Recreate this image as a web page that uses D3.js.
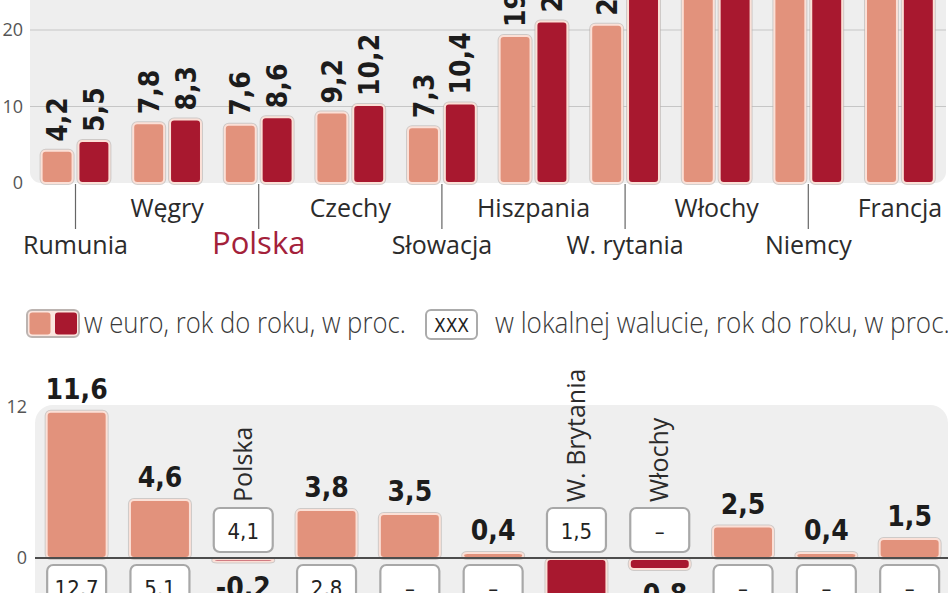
<!DOCTYPE html>
<html lang="pl">
<head>
<meta charset="utf-8">
<script src="https://cdn.jsdelivr.net/npm/d3@7"></script>
<style>
  body { margin: 0; background: #fff; }
  svg { display: block; }
  .sans { font-family: 'Open Sans', 'DejaVu Sans', sans-serif; }
  .num { font-family: 'DejaVu Sans Condensed', 'DejaVu Sans', sans-serif; font-stretch: condensed; font-weight: bold; }
  .plain { font-weight: normal; }
</style>
</head>
<body>
<svg id="chart" width="948" height="593"></svg>
<script>
// upper chart: two bars per country
let topCountries = ['Rumunia', 'Węgry', 'Polska', 'Czechy', 'Słowacja', 'Hiszpania', 'W. rytania', 'Włochy', 'Niemcy', 'Francja']
let topEuro  = [4.2, 7.8, 7.6, 9.2, 7.3, 19.2, 20.7, 27.4, 28.3, 29.6]
let topLocal = [5.5, 8.3, 8.6, 10.2, 10.4, 21.1, 25.8, 28.1, 29.0, 30.2]
let topTicks = [0, 10, 20]
let topGrid = [10, 20]

// lower chart: one bar (euro) and one box (local currency) per country
let bottomNames = [null, null, 'Polska', null, null, null, 'W. Brytania', 'Włochy', null, null, null]
let bottomEuro  = [11.6, 4.6, -0.2, 3.8, 3.5, 0.4, -6.5, -0.8, 2.5, 0.4, 1.5]
let bottomLocal = [12.7, 5.1, 4.1, 2.8, null, null, 1.5, null, null, null, null]
let bottomTicks = [0, 12]

let legendEuro = 'w euro, rok do roku, w proc.'
let legendLocal = 'w lokalnej walucie, rok do roku, w proc.'

let salmon = '#e2927c'
let darkRed = '#a8182f'

let pl = d3.formatLocale({decimal: ',', thousands: ' ', grouping: [3], currency: ['', ' zł'], minus: '-'})
let fmt = pl.format('.1f')

let svg = d3.select('#chart')

// draws a rounded bar with a pale rim and a soft grey edge
let drawBars = (g, data, cls) => {
  g.selectAll('rect.' + cls + '-edge')
    .data(data)
    .enter()
    .append('rect')
    .attr('class', cls + '-edge')
    .attr('x', d => d.x).attr('y', d => d.y)
    .attr('width', d => d.w).attr('height', d => d.h)
    .attr('rx', 4)
    .attr('fill', 'none')
    .attr('stroke', '#b8b0ad')
    .attr('stroke-opacity', 0.6)
    .attr('stroke-width', 4)
  g.selectAll('rect.' + cls)
    .data(data)
    .enter()
    .append('rect')
    .attr('class', cls)
    .attr('x', d => d.x).attr('y', d => d.y)
    .attr('width', d => d.w).attr('height', d => d.h)
    .attr('rx', 4)
    .attr('fill', d => d.fill)
    .attr('stroke', '#fbe0d7')
    .attr('stroke-width', 2)
}

// squeezes a text horizontally so it fills the given width
let squeeze = (sel, x, y, width) => {
  let natural = sel.node().getComputedTextLength()
  sel.attr('transform', 'translate(' + x + ',' + y + ') scale(' + (width / natural) + ',1)')
}

// ---------- upper chart ----------
let x0 = d3.scaleBand().domain(topCountries).range([29.7, 945.7]).paddingInner(0.26).paddingOuter(0.13)
let x1 = d3.scaleBand().domain(['euro', 'local']).range([0, x0.bandwidth()]).paddingInner(0.16)
let yTop = d3.scaleLinear().domain([0, 20]).range([183, 30])

let upper = svg.append('g')

upper.append('rect')
   .attr('x', 30).attr('y', -30)
   .attr('width', 916).attr('height', yTop(0) + 30)
   .attr('rx', 11)
   .attr('fill', '#eeeeee')

upper.selectAll('line.grid')
   .data(topGrid)
   .enter()
   .append('line')
   .attr('class', 'grid')
   .attr('x1', 30).attr('x2', 946)
   .attr('y1', d => yTop(d)).attr('y2', d => yTop(d))
   .attr('stroke', '#c6c6c6')
   .attr('stroke-width', 1.2)

let topAxis = d3.axisLeft(yTop).tickValues(topTicks).tickSize(0).tickPadding(7).tickFormat(d3.format('d'))
upper.append('g')
   .attr('transform', 'translate(30,0)')
   .call(topAxis)
   .call(g => g.select('.domain').remove())
   .selectAll('text')
   .attr('class', 'sans')
   .attr('font-size', 18)
   .attr('fill', '#555')

let topBars = []
topCountries.forEach((c, i) => {
  [['euro', topEuro[i], salmon], ['local', topLocal[i], darkRed]].forEach(([k, v, fill]) => {
    topBars.push({
      x: x0(c) + x1(k), y: yTop(v), w: x1.bandwidth(), h: yTop(0) - yTop(v),
      fill: fill, v: v, cx: x0(c) + x1(k) + x1.bandwidth() / 2
    })
  })
})
drawBars(upper, topBars, 'tbar')

upper.selectAll('text.tval')
   .data(topBars)
   .enter()
   .append('text')
   .attr('class', 'tval num')
   .attr('transform', d => 'translate(' + d.cx + ',' + (d.y - 9) + ') rotate(-90)')
   .attr('dy', '0.36em')
   .attr('font-size', 28)
   .attr('fill', '#1c1c1c')
   .text(d => fmt(d.v))

// country names in two rows, lower row with leader lines
let lowRow = topCountries.filter((c, i) => i % 2 === 0)
let highRow = topCountries.filter((c, i) => i % 2 === 1)

upper.selectAll('line.leader')
   .data(lowRow)
   .enter()
   .append('line')
   .attr('class', 'leader')
   .attr('x1', c => x0(c) + x0.bandwidth() / 2)
   .attr('x2', c => x0(c) + x0.bandwidth() / 2)
   .attr('y1', yTop(0) + 1).attr('y2', 229)
   .attr('stroke', '#666')
   .attr('stroke-width', 1.2)

upper.selectAll('text.name1')
   .data(highRow)
   .enter()
   .append('text')
   .attr('class', 'name1 sans')
   .attr('x', c => x0(c) + x0.bandwidth() / 2)
   .attr('y', 217)
   .attr('text-anchor', 'middle')
   .attr('font-size', 25)
   .attr('fill', '#2b2b2b')
   .text(c => c)

upper.selectAll('text.name2')
   .data(lowRow)
   .enter()
   .append('text')
   .attr('class', 'name2 sans')
   .attr('x', c => x0(c) + x0.bandwidth() / 2)
   .attr('y', 254)
   .attr('text-anchor', 'middle')
   .attr('font-size', c => c === 'Polska' ? 31 : 25)
   .attr('fill', c => c === 'Polska' ? '#a3213a' : '#2b2b2b')
   .text(c => c)

// ---------- legend ----------
let legend = svg.append('g')
legend.append('rect')
      .attr('x', 27).attr('y', 310).attr('width', 52).attr('height', 27).attr('rx', 5)
      .attr('fill', '#fbe6df').attr('stroke', '#bcb4b1').attr('stroke-width', 2)
legend.append('rect')
      .attr('x', 29.5).attr('y', 312.5).attr('width', 21).attr('height', 22).attr('rx', 3)
      .attr('fill', salmon)
legend.append('rect')
      .attr('x', 55).attr('y', 312.5).attr('width', 22).attr('height', 22).attr('rx', 3)
      .attr('fill', darkRed)
legend.append('text')
      .attr('class', 'sans')
      .attr('font-size', 30).attr('font-weight', 300)
      .attr('fill', '#3a3a3a')
      .text(legendEuro)
      .call(squeeze, 84, 333, 322)
legend.append('rect')
      .attr('x', 426).attr('y', 310).attr('width', 51).attr('height', 29).attr('rx', 5)
      .attr('fill', '#fff').attr('stroke', '#ababab').attr('stroke-width', 2)
legend.append('text')
      .attr('class', 'num plain')
      .attr('x', 451.5).attr('y', 332)
      .attr('text-anchor', 'middle')
      .attr('font-size', 19)
      .attr('fill', '#222')
      .text('XXX')
legend.append('text')
      .attr('class', 'sans')
      .attr('font-size', 30).attr('font-weight', 300)
      .attr('fill', '#3a3a3a')
      .text(legendLocal)
      .call(squeeze, 495, 333, 455)

// ---------- lower chart ----------
let idx = d3.range(bottomEuro.length)
let xb = d3.scaleBand().domain(idx).range([35, 951.3]).paddingInner(0.28).paddingOuter(0.14)
let yb = d3.scaleLinear().domain([0, 12]).range([558, 406.8])
let boxH = 44

let lower = svg.append('g')

lower.append('rect')
   .attr('x', 35).attr('y', 405)
   .attr('width', 913).attr('height', 260)
   .attr('rx', 18)
   .attr('fill', '#efefef')

let botAxis = d3.axisLeft(yb).tickValues(bottomTicks).tickSize(0).tickPadding(8).tickFormat(d3.format('d'))
lower.append('g')
   .attr('transform', 'translate(35,0)')
   .call(botAxis)
   .call(g => g.select('.domain').remove())
   .selectAll('text')
   .attr('class', 'sans')
   .attr('font-size', 18)
   .attr('fill', '#555')

let botBars = idx.map(i => {
  let v = bottomEuro[i]
  return {
    i: i, v: v,
    x: xb(i), w: xb.bandwidth(),
    y: v >= 0 ? yb(v) : yb(0) + 1,
    h: Math.abs(yb(0) - yb(v)),
    fill: v >= 0 ? salmon : darkRed,
    cx: xb(i) + xb.bandwidth() / 2
  }
})
drawBars(lower, botBars, 'bbar')

lower.append('line')
   .attr('x1', 35).attr('x2', 948)
   .attr('y1', yb(0)).attr('y2', yb(0))
   .attr('stroke', '#4d4d4d')
   .attr('stroke-width', 2)

lower.selectAll('text.bval')
   .data(botBars)
   .enter()
   .append('text')
   .attr('class', 'bval num')
   .attr('x', d => d.cx)
   .attr('y', d => d.v >= 0 ? yb(d.v) - 13 : yb(d.v) + 36)
   .attr('text-anchor', 'middle')
   .attr('font-size', 28)
   .attr('fill', '#1c1c1c')
   .text(d => fmt(d.v))

// local-currency boxes sit on the other side of the zero line
let boxTop = d => d.v >= 0 ? yb(0) + 7 : yb(0) - 6 - boxH

lower.selectAll('rect.box')
   .data(botBars)
   .enter()
   .append('rect')
   .attr('class', 'box')
   .attr('x', d => d.x + 0.5).attr('y', boxTop)
   .attr('width', d => d.w - 1).attr('height', boxH)
   .attr('rx', 6)
   .attr('fill', '#fff')
   .attr('stroke', '#a8a8a8')
   .attr('stroke-width', 2.2)

lower.selectAll('text.box')
   .data(botBars)
   .enter()
   .append('text')
   .attr('class', 'box num plain')
   .attr('x', d => d.cx)
   .attr('y', d => boxTop(d) + 31)
   .attr('text-anchor', 'middle')
   .attr('font-size', 22)
   .attr('fill', '#222')
   .text(d => bottomLocal[d.i] === null ? '–' : fmt(bottomLocal[d.i]))

lower.selectAll('text.bname')
   .data(botBars.filter(d => bottomNames[d.i] !== null && d.v < 0))
   .enter()
   .append('text')
   .attr('class', 'bname sans')
   .attr('transform', d => 'translate(' + d.cx + ',' + (boxTop(d) - 6) + ') rotate(-90)')
   .attr('dy', '0.34em')
   .attr('font-size', 25)
   .attr('fill', '#2b2b2b')
   .text(d => bottomNames[d.i])
</script>
</body>
</html>
